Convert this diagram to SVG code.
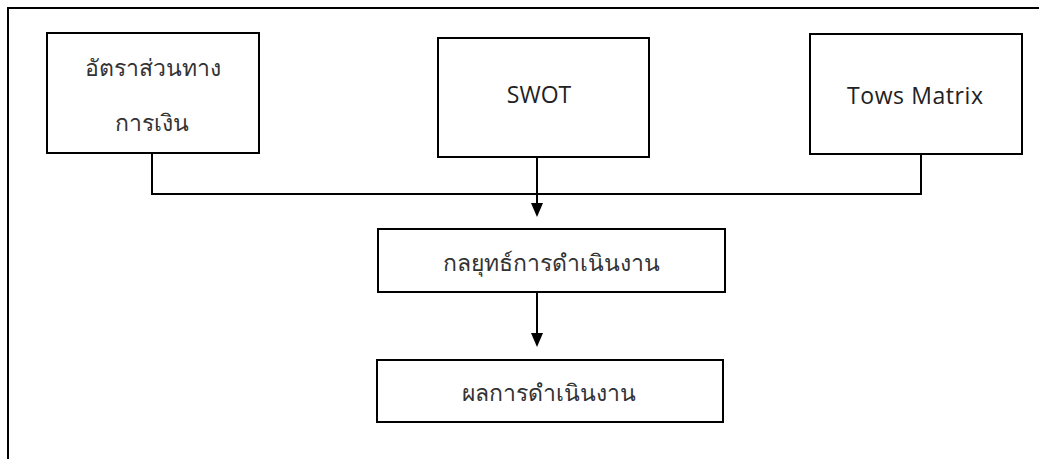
<svg xmlns="http://www.w3.org/2000/svg" width="1039" height="459" viewBox="0 0 1039 459">
<style>
.box{fill:#fff;stroke:#000;stroke-width:2}
.frame{fill:none;stroke:#000;stroke-width:2}
.th{font-family:"Noto Sans","DejaVu Sans",sans-serif;font-size:23px;font-weight:300;fill:#333;text-anchor:middle}
.en{font-family:"Open Sans","Noto Sans",sans-serif;font-size:23px;fill:#222;text-anchor:middle}
.line{fill:none;stroke:#000;stroke-width:2}
</style>
<rect width="1039" height="459" fill="#fff"/>
<path class="frame" d="M8,459 V8 H1039"/>
<g id="connectors">
<path class="line" d="M152,153 V194 H921 V154"/>
<path class="line" d="M537,157 V203"/>
<path d="M531,203 L543,203 L537,217 Z" fill="#000"/>
<path class="line" d="M537,292 V334"/>
<path d="M531,333 L543,333 L537,347 Z" fill="#000"/>
</g>
<g id="node-ratio">
<rect class="box" x="47" y="33" width="212" height="120"/>
<text class="th" x="153" y="76">อัตราส่วนทาง</text>
<text class="th" x="152" y="131">การเงิน</text>
</g>
<g id="node-swot">
<rect class="box" x="438" y="38" width="211" height="119"/>
<text class="en" x="539" y="103">SWOT</text>
</g>
<g id="node-tows">
<rect class="box" x="810" y="34" width="212" height="120"/>
<text class="en" x="915" y="104" textLength="136">Tows Matrix</text>
</g>
<g id="node-strategy">
<rect class="box" x="378" y="229" width="347" height="63"/>
<text class="th" x="551" y="271">กลยุทธ์การดำเนินงาน</text>
</g>
<g id="node-result">
<rect class="box" x="377" y="360" width="346" height="62"/>
<text class="th" x="549" y="401">ผลการดำเนินงาน</text>
</g>
</svg>
